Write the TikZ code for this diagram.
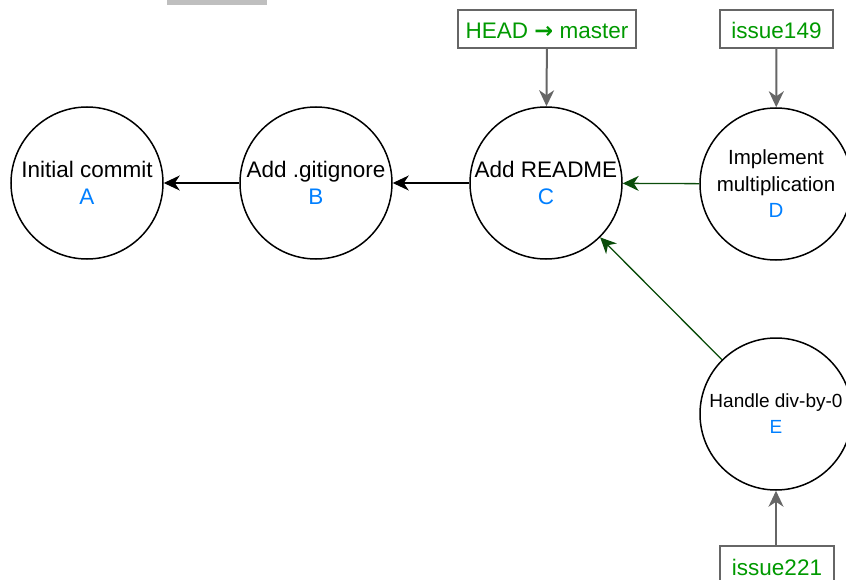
\documentclass[tikz,border=0pt]{standalone}
\usepackage{fontspec}
\setmainfont{Liberation Sans}
\newfontfamily\arrowfont{DejaVu Sans}
\usetikzlibrary{arrows.meta}
\definecolor{letterblue}{HTML}{007FFF}
\definecolor{refgreen}{HTML}{009900}
\definecolor{linkgreen}{HTML}{0B4D0B}
\definecolor{boxgray}{HTML}{666666}
\definecolor{bargray}{HTML}{BFBFBF}
\begin{document}
\begin{tikzpicture}[x=1pt,y=-1pt,
    commit/.style={circle,draw,line width=1.5pt,minimum size=152pt,inner sep=0pt,align=center,
      font=\fontsize{22.5}{27}\selectfont},
    refbox/.style={draw=boxgray,line width=1.5pt,text=refgreen,text height=20pt,text depth=0pt,
      inner xsep=4pt,inner ysep=9pt,font=\fontsize{22.5}{27}\selectfont},
    parent/.style={-{Stealth[length=16pt,width=15pt,inset=5pt]},line width=1.3pt},
    pointer/.style={-{Stealth[length=16pt,width=15pt,inset=5pt]},draw=boxgray,fill=boxgray,line width=2pt}]
      \useasboundingbox (0,0) rectangle (846,580);
      \fill[bargray] (167,0) rectangle (267,5);

      \node[commit] (a) at (87,183) {Initial commit\\\textcolor{letterblue}{A}};
      \node[commit] (b) at (316,183) {Add .gitignore\\\textcolor{letterblue}{B}};
      \node[commit] (c) at (546,183) {Add README\\\textcolor{letterblue}{C}};
      \node[commit,font=\fontsize{20.5}{26.5}\selectfont] (d) at (776,184) {Implement\\multiplication\\\textcolor{letterblue}{D}};
      \node[commit,font=\fontsize{19}{26}\selectfont] (e) at (776,414) {Handle div-by-0\\\textcolor{letterblue}{E}};

      \node[refbox,minimum width=178pt] (head) at (547,29) {HEAD {\arrowfont\bfseries →} master};
      \node[refbox,minimum width=113pt] (i149) at (776.5,29) {issue149};
      \node[refbox,minimum width=114pt] (i221) at (777,565) {issue221};

      \draw[parent] (b) -- (a);
      \draw[parent] (c) -- (b);
      \draw[parent,draw=linkgreen,fill=linkgreen] (d) -- (c);
      \draw[parent,draw=linkgreen,fill=linkgreen] (e) -- (c);

      \draw[pointer] (head) -- (c);
      \draw[pointer] (i149) -- (d);
      \draw[pointer] (i221.north -| e) -- (e);
    \end{tikzpicture}
\end{document}
